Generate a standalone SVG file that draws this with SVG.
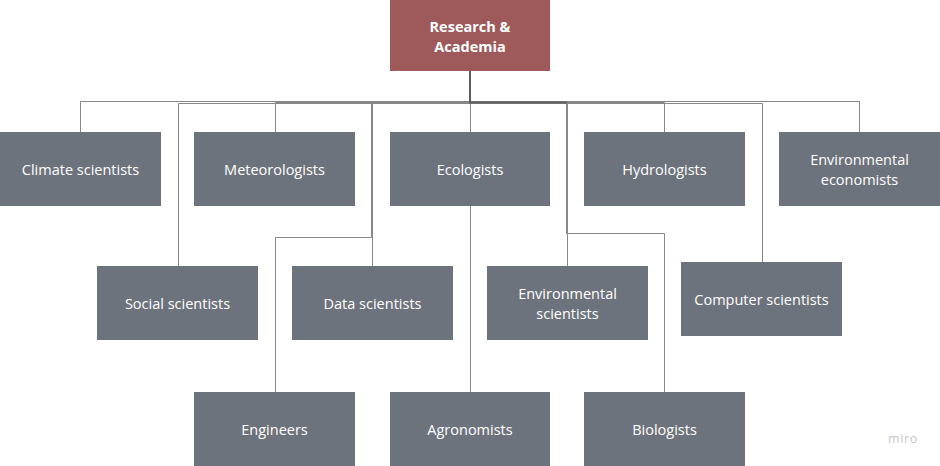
<svg xmlns="http://www.w3.org/2000/svg" width="940" height="466" viewBox="0 0 940 466">
  <style>
    .bg { fill: #ffffff; }
    .root rect { fill: #9e5a5a; }
    .node rect { fill: #6d737c; }
    .root text { fill: #ffffff; font-family: "Open Sans", "Noto Sans", "DejaVu Sans", sans-serif; font-size: 14.5px; font-weight: 700; text-anchor: middle; }
    .node text { fill: #ffffff; font-family: "Open Sans", "Noto Sans", "DejaVu Sans", sans-serif; font-size: 14.5px; text-anchor: middle; }
    .edges path { fill: none; stroke: #888888; stroke-width: 1; }
    .edges .trunk { stroke: #5e5e5e; stroke-width: 2; }
    .brand { fill: #c6c6d0; font-family: "Open Sans", "Noto Sans", sans-serif; font-size: 12.5px; letter-spacing: 0.6px; }
  </style>

  <rect class="bg" x="0" y="0" width="940" height="466"/>

  <!-- elbow connectors from the root to every role -->
  <g id="connectors" class="edges">
    <path d="M470 71 V101.5 H80.5 V132"/>
    <path d="M470 71 V103.5 H178.5 V266"/>
    <path d="M470 71 V102.5 H275.5 V132"/>
    <path d="M470 71 V102.5 H372.5 V266"/>
    <path d="M470 71 V102.5 H371.5 V237.5 H275.5 V392"/>
    <path d="M470.5 71 V132"/>
    <path d="M470.5 71 V392"/>
    <path d="M470 71 V102.5 H567.5 V266"/>
    <path d="M470 71 V102.5 H566.5 V233.5 H664.5 V392"/>
    <path d="M470 71 V102.5 H664.5 V132"/>
    <path d="M470 71 V103.5 H762.5 V262"/>
    <path d="M470 71 V101.5 H859.5 V132"/>
    <!-- shared stem where all connectors overlap -->
    <path class="trunk" d="M470 71 V102.5 H567"/>
  </g>

  <!-- root -->
  <g id="research-academia" class="root">
    <rect x="390" y="0" width="160" height="71"/>
    <text x="470" y="32">Research &amp;</text>
    <text x="470" y="52">Academia</text>
  </g>

  <!-- first row -->
  <g id="climate-scientists" class="node">
    <rect x="0" y="132" width="161" height="74"/>
    <text x="80.5" y="174.5">Climate scientists</text>
  </g>
  <g id="meteorologists" class="node">
    <rect x="194" y="132" width="161" height="74"/>
    <text x="274.5" y="174.5">Meteorologists</text>
  </g>
  <g id="ecologists" class="node">
    <rect x="390" y="132" width="160" height="74"/>
    <text x="470" y="174.5">Ecologists</text>
  </g>
  <g id="hydrologists" class="node">
    <rect x="584" y="132" width="161" height="74"/>
    <text x="664.5" y="174.5">Hydrologists</text>
  </g>
  <g id="environmental-economists" class="node">
    <rect x="779" y="132" width="161" height="74"/>
    <text x="859.5" y="165">Environmental</text>
    <text x="859.5" y="185">economists</text>
  </g>

  <!-- second row -->
  <g id="social-scientists" class="node">
    <rect x="97" y="266" width="161" height="74"/>
    <text x="177.5" y="308.5">Social scientists</text>
  </g>
  <g id="data-scientists" class="node">
    <rect x="292" y="266" width="161" height="74"/>
    <text x="372.5" y="308.5">Data scientists</text>
  </g>
  <g id="environmental-scientists" class="node">
    <rect x="487" y="266" width="161" height="74"/>
    <text x="567.5" y="299">Environmental</text>
    <text x="567.5" y="319">scientists</text>
  </g>
  <g id="computer-scientists" class="node">
    <rect x="681" y="262" width="161" height="74"/>
    <text x="761.5" y="304.5">Computer scientists</text>
  </g>

  <!-- third row -->
  <g id="engineers" class="node">
    <rect x="194" y="392" width="161" height="74"/>
    <text x="274.5" y="434.5">Engineers</text>
  </g>
  <g id="agronomists" class="node">
    <rect x="390" y="392" width="160" height="74"/>
    <text x="470" y="434.5">Agronomists</text>
  </g>
  <g id="biologists" class="node">
    <rect x="584" y="392" width="161" height="74"/>
    <text x="664.5" y="434.5">Biologists</text>
  </g>

  <text class="brand" x="888" y="443">miro</text>
</svg>
